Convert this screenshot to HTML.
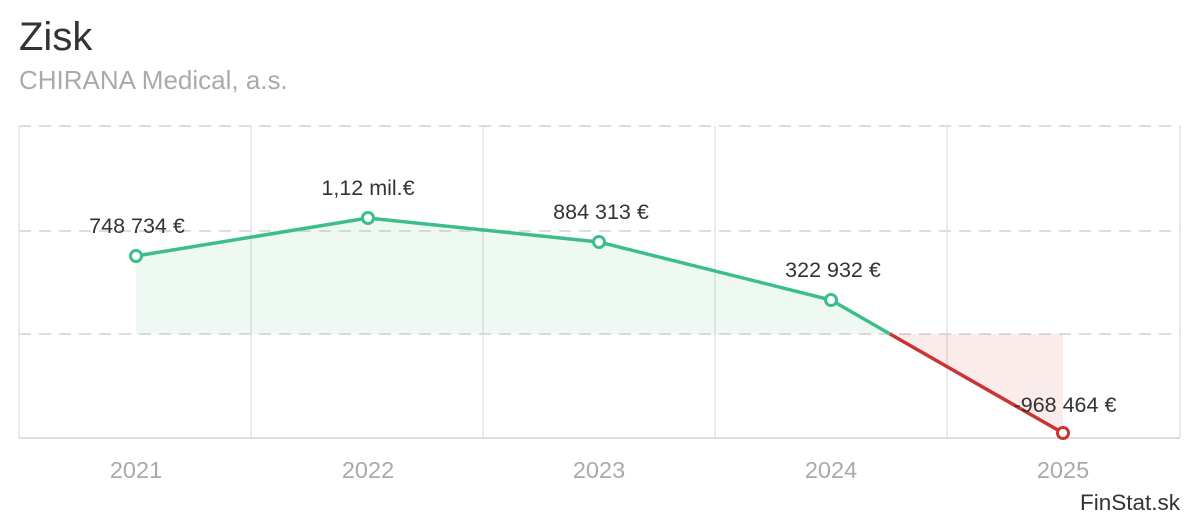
<!DOCTYPE html>
<html><head><meta charset="utf-8"><style>
body{margin:0;width:1200px;height:520px;background:#fff;font-family:"Liberation Sans",sans-serif;overflow:hidden}
</style></head><body>
<svg width="1200" height="520" xmlns="http://www.w3.org/2000/svg" font-family="Liberation Sans, sans-serif">
<text x="19" y="50" font-size="40" fill="#333">Zisk</text>
<text x="19" y="89" font-size="26" fill="#aaa">CHIRANA Medical, a.s.</text>
<g stroke="#e3e3e3" stroke-width="1.5">
<line x1="19" y1="126" x2="19" y2="438"/><line x1="251" y1="126" x2="251" y2="438"/><line x1="483" y1="126" x2="483" y2="438"/><line x1="715" y1="126" x2="715" y2="438"/><line x1="947" y1="126" x2="947" y2="438"/><line x1="1180" y1="126" x2="1180" y2="438"/>
<line x1="19" y1="438" x2="1180" y2="438" stroke="#ddd" stroke-width="2"/>
</g>
<g stroke="#ddd" stroke-width="2" stroke-dasharray="12,8">
<line x1="19" y1="126" x2="1180" y2="126"/><line x1="19" y1="231" x2="1180" y2="231"/><line x1="19" y1="334" x2="1180" y2="334"/>
</g>
<polygon points="136,256 368,218 599,242 831,300 890,334 136,334" fill="#3dbd8a" fill-opacity="0.09"/>
<polygon points="890,334 1063,433 1063,334" fill="#d0443a" fill-opacity="0.1"/>
<polyline points="136,256 368,218 599,242 831,300 890,334" fill="none" stroke="#3dbd8a" stroke-width="3.5"/>
<line x1="890" y1="334" x2="1063" y2="433" stroke="#cc3333" stroke-width="3.5"/>
<g fill="#fff" stroke-width="3">
<circle cx="136" cy="256" r="5.5" stroke="#3dbd8a"/><circle cx="368" cy="218" r="5.5" stroke="#3dbd8a"/><circle cx="599" cy="242" r="5.5" stroke="#3dbd8a"/><circle cx="831" cy="300" r="5.5" stroke="#3dbd8a"/><circle cx="1063" cy="433" r="5.5" stroke="#cc3333"/>
</g>
<g font-size="21.5" fill="#333" text-anchor="middle">
<text x="137" y="233">748 734 €</text><text x="368" y="195">1,12 mil.€</text><text x="601" y="219">884 313 €</text><text x="833" y="277">322 932 €</text><text x="1065" y="412">-968 464 €</text>
</g>
<g font-size="23.5" fill="#aaa" text-anchor="middle">
<text x="136" y="478">2021</text><text x="368" y="478">2022</text><text x="599" y="478">2023</text><text x="831" y="478">2024</text><text x="1063" y="478">2025</text>
</g>
<text x="1180" y="510" font-size="22.5" fill="#333" text-anchor="end">FinStat.sk</text>
</svg>
</body></html>
